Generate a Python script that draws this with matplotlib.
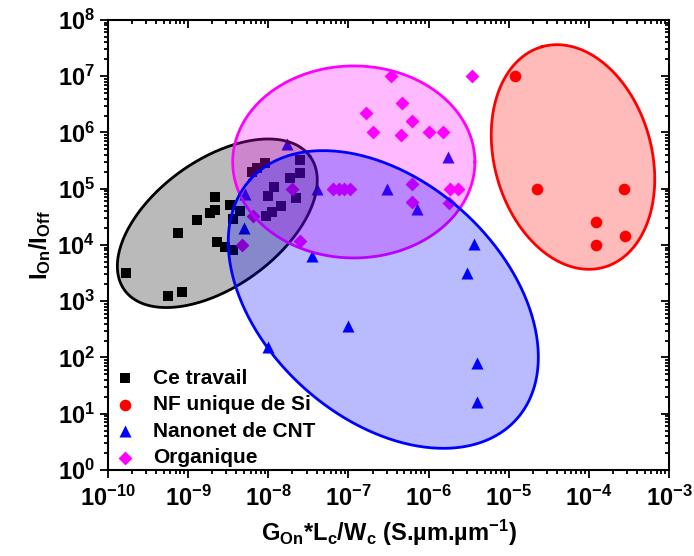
import numpy as np
import matplotlib
matplotlib.use('Agg')
import matplotlib.pyplot as plt
from matplotlib.ticker import LogLocator, NullFormatter

plt.rcParams.update({
    'font.family': 'Liberation Sans',
    'font.weight': 'bold',
    'axes.labelweight': 'bold',
    'mathtext.fontset': 'custom',
    'mathtext.rm': 'Liberation Sans:bold',
    'mathtext.it': 'Liberation Sans:bold',
    'mathtext.bf': 'Liberation Sans:bold',
    'mathtext.default': 'rm',
})

# Ce travail
ct_x = [1.66e-10, 5.65e-10, 8.45e-10, 7.41e-10, 1.28e-9, 1.88e-9, 2.16e-9, 2.16e-9,
        3.33e-9, 4.44e-9, 3.66e-9, 2.27e-9, 2.88e-9, 3.66e-9, 6.27e-9, 7.23e-9,
        9.10e-9, 2.49e-8, 2.49e-8, 1.87e-8, 1.18e-8, 1.0e-8, 2.19e-8, 1.44e-8,
        1.10e-8, 9.38e-9]
ct_y = [3.16e3, 1.24e3, 1.46e3, 1.61e4, 2.78e4, 3.66e4, 4.19e4, 7.23e4,
        5.14e4, 4.07e4, 2.86e4, 1.15e4, 9.33e3, 8.15e3, 1.99e5, 2.31e5,
        2.84e5, 3.18e5, 1.93e5, 1.53e5, 1.09e5, 7.43e4, 6.76e4, 4.83e4,
        3.91e4, 3.34e4]

# NF unique de Si
si_x = [1.2e-5, 2.24e-5, 2.75e-4, 1.23e-4, 1.23e-4, 2.8e-4]
si_y = [1e7, 1e5, 1e5, 2.6e4, 1e4, 1.45e4]

# Nanonet de CNT
cnt_x = [1.7e-8, 1.76e-6, 5.1e-9, 4.0e-8, 3.0e-7, 7.1e-7, 5.0e-9, 3.5e-8,
         3.7e-6, 3.0e-6, 1.0e-7, 1.0e-8, 4.0e-6, 4.0e-6]
cnt_y = [6.3e5, 3.7e5, 8.1e4, 1e5, 1e5, 4.3e4, 2.0e4, 6.3e3,
         1.05e4, 3.2e3, 3.6e2, 1.55e2, 79, 16]

# Organique
org_x = [3.4e-7, 3.5e-6, 4.6e-7, 1.66e-7, 6.3e-7, 2.0e-7, 4.5e-7, 1.0e-6,
         1.5e-6, 6.2e-7, 6.2e-7, 1.86e-6, 2.3e-6, 1.8e-6, 6.5e-8, 7.6e-8,
         8.9e-8, 1.05e-7, 1.95e-8, 6.5e-9, 2.5e-8, 4.7e-9]
org_y = [1e7, 1e7, 3.4e6, 2.2e6, 1.6e6, 1e6, 9.1e5, 1e6,
         1e6, 1.2e5, 5.9e4, 1e5, 1e5, 5.6e4, 1e5, 1e5,
         1e5, 1e5, 1e5, 3.3e4, 1.2e4, 1e4]

# ellipses: centre (log10 x, log10 y), semi-axes in x-decades, angle (deg)
ELLIPSES = [
    ('black', (-8.636, 4.386, 1.427, 0.791, 35.7)),
    ('magenta', (-6.933, 5.476, 1.511, 1.198, 0.0)),
    ('blue', (-6.565, 3.031, 2.235, 1.482, 138.0)),
    ('red', (-4.198, 5.564, 1.429, 0.981, 105.6)),
]

fig = plt.figure(figsize=(6.94, 5.56), dpi=100)
ax = fig.add_axes([0.1556, 0.1547, 0.8084, 0.8094])
ax.set_xscale('log')
ax.set_yscale('log')
ax.set_xlim(1e-10, 1e-3)
ax.set_ylim(1e0, 1e8)

ax.scatter(ct_x, ct_y, marker='s', s=52, color='black', lw=0, label='Ce travail', zorder=2)
ax.scatter(si_x, si_y, marker='o', s=70, color='red', lw=0, label='NF unique de Si', zorder=2)
ax.scatter(cnt_x, cnt_y, marker='^', s=75, color='blue', lw=0, label='Nanonet de CNT', zorder=2)
ax.scatter(org_x, org_y, marker='D', s=50, color='magenta', lw=0, label='Organique', zorder=2)

# ratio of pixel length of a y-decade to an x-decade
pos = ax.get_position()
r = (pos.height * 5.56 / 8) / (pos.width * 6.94 / 7)
t = np.linspace(0, 2 * np.pi, 400)
for col, (cx, cy, a, b, ang) in ELLIPSES:
    c, s = np.cos(np.radians(ang)), np.sin(np.radians(ang))
    u = a * np.cos(t) * c - b * np.sin(t) * s
    v = a * np.cos(t) * s + b * np.sin(t) * c
    ex, ey = 10 ** (cx + u), 10 ** (cy + v / r)
    ax.fill(ex, ey, color=col, alpha=0.27, lw=0, zorder=3)
    ax.plot(ex, ey, color=col, lw=2, zorder=3)

for sp in ax.spines.values():
    sp.set_linewidth(1.5)
ax.xaxis.set_major_locator(LogLocator(base=10, numticks=10))
ax.yaxis.set_major_locator(LogLocator(base=10, numticks=12))
ax.xaxis.set_minor_locator(LogLocator(base=10, subs=np.arange(2, 10), numticks=10))
ax.yaxis.set_minor_locator(LogLocator(base=10, subs=np.arange(2, 10), numticks=12))
ax.xaxis.set_minor_formatter(NullFormatter())
ax.yaxis.set_minor_formatter(NullFormatter())
ax.tick_params(which='both', top=True, right=True, width=1.3, labelsize=17,
               direction='out')
ax.tick_params(which='major', length=6)
ax.tick_params(which='minor', length=3)
ax.tick_params(axis='x', which='major', pad=5)
# mirrored ticks on top/right point inwards
for tk in ax.xaxis.get_major_ticks() + ax.xaxis.get_minor_ticks():
    tk.tick2line.set_marker(3)
for tk in ax.yaxis.get_major_ticks() + ax.yaxis.get_minor_ticks():
    tk.tick2line.set_marker(0)

ax.set_xlabel(r'G$_{On}$*L$_c$/W$_c$ (S.µm.µm$^{-1}$)', fontsize=17,
              fontweight='bold', labelpad=5)
ax.set_ylabel(r'I$_{On}$/I$_{Off}$', fontsize=17, fontweight='bold', labelpad=3)

ax.legend(loc='lower left', bbox_to_anchor=(0.0, -0.012), frameon=False,
          fontsize=15, handlelength=0.8, handletextpad=0.96, labelspacing=0.36,
          borderaxespad=0, scatterpoints=1, markerscale=1)

fig.savefig('out.png', dpi=100)
